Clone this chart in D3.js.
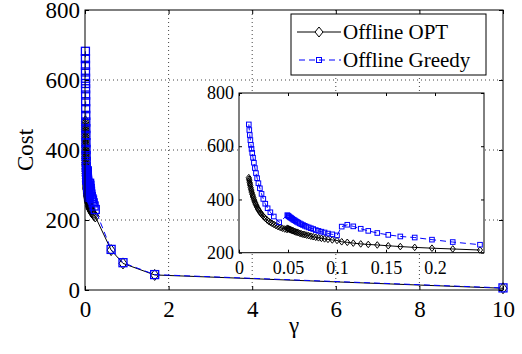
<!DOCTYPE html>
<html>
<head>
<meta charset="utf-8">
<script src="https://cdn.jsdelivr.net/npm/d3@7"></script>
<style>
  body { margin: 0; background: #fff; }
  svg { display: block; }
</style>
</head>
<body>
<svg id="chart" width="522" height="354"></svg>
<script>
// ---- data: cost versus gamma ----
// sweep 1 (fine gamma, small values)
const gammaOptA = [0.0100,0.0103,0.0106,0.0109,0.0112,0.0115,0.0119,0.0123,0.0127,0.0131,0.0136,0.0141,0.0146,0.0152,0.0158,0.0164,0.0171,0.0178,0.0186,0.0194,0.0203,0.0212,0.0222,0.0233,0.0245,0.0258,0.0272,0.0287,0.0303,0.0320,0.0338,0.0357,0.0377,0.0398,0.0420,0.0443,0.0467,0.0490];
const optA      = [482,476,470,464,458,452,445,438,432,426,419,413,407,400,394,388,382,376,370,364,359,354,348,343,338,333,328,323,318,314,310,306,302,298,295,292,289,287];
const gammaGreedyA = [0.0100,0.0105,0.0110,0.0116,0.0122,0.0128,0.0135,0.0143,0.0152,0.0162,0.0173,0.0185,0.0198,0.0213,0.0230,0.0248,0.0268,0.0292,0.0320,0.0355,0.0410];
const greedyA      = [682,661,642,623,605,590,575,557,538,518,499,480,461,442,421,402,384,367,352,336,314];
// sweep 2
const gammaB  = [0.0493,0.0500,0.0508,0.0516,0.0525,0.0534,0.0544,0.0555,0.0566,0.0578,0.0591,0.0605,0.0620,0.0636,0.0653,0.0671,0.0690,0.0711,0.0733,0.0757,0.0783,0.0811,0.0841,0.0873,0.0908,0.0952,0.1000];
const optB    = [292,290,289,288,286,285,283,282,280,278,277,275,273,271,269,268,266,264,262,260,258,256,254,252,250,248,246];
const greedyB = [341,339,337,334,332,330,327,324,322,319,316,313,310,307,304,301,298,295,292,289,285,282,279,276,272,269,265];
// sweep 3
const gammaC  = [0.1048,0.1105,0.1166,0.1242,0.1319,0.1411,0.1523,0.1646,0.1793,0.1969,0.2181,0.2459];
const optC    = [241,239,236,233,231,229,226,223,220,217,214,210];
const greedyC = [298,305,299,290,282,274,267,261,257,249,240,230];
// coarse sweep (large gamma)
const gammaWide  = [0.625,0.909,1.667,10];
const optWide    = [114,76,43,5];
const greedyWide = [116,78,44,6];

// ---- axes ----
const mainXTicks = [0,2,4,6,8,10];
const mainYTicks = [0,200,400,600,800];
const insetXTicks = [0,0.05,0.1,0.15,0.2];
const insetXTickLabels = ["0","0.05","0.1","0.15","0.2"];
const insetYTicks = [200,400,600,800];
const seriesNames = ["Offline OPT","Offline Greedy"];
const xLabel = "γ";
const yLabel = "Cost";

const FONT = '"Liberation Serif"';
const zip = (xs, ys) => xs.map((g, i) => ({g, v: ys[i]}));
const optInset = [...zip(gammaOptA, optA), ...zip(gammaB, optB), ...zip(gammaC, optC)];
const greedyInset = [...zip(gammaGreedyA, greedyA), ...zip(gammaB, greedyB), ...zip(gammaC, greedyC)];
const optAll = [...optInset, ...zip(gammaWide, optWide)];
const greedyAll = [...greedyInset, ...zip(gammaWide, greedyWide)];

const svg = d3.select("#chart");
const BLUE = "#0000ff";

function diamond(hw, hh) { return `M0,${-hh}L${hw},0L0,${hh}L${-hw},0Z`; }

function drawSeries(g, x, y, opt, greedy, sz) {
  const line = d3.line().x(d => x(d.g)).y(d => y(d.v));
  g.append("path").datum(opt).attr("d", line)
    .attr("fill", "none").attr("stroke", "#000").attr("stroke-width", 1);
  g.selectAll(null).data(opt).enter().append("path")
    .attr("d", diamond(sz.dw, sz.dh))
    .attr("transform", d => `translate(${x(d.g)},${y(d.v)})`)
    .attr("fill", "none").attr("stroke", "#000").attr("stroke-width", 1);
  g.append("path").datum(greedy).attr("d", line)
    .attr("fill", "none").attr("stroke", BLUE).attr("stroke-width", 1)
    .attr("stroke-dasharray", "6,4");
  g.selectAll(null).data(greedy).enter().append("rect")
    .attr("x", d => x(d.g) - sz.s).attr("y", d => y(d.v) - sz.s)
    .attr("width", 2 * sz.s).attr("height", 2 * sz.s)
    .attr("fill", "none").attr("stroke", BLUE).attr("stroke-width", sz.sw);
}

function frame(g, x, y, xt, yt, fmtX, fontSize, tick, padX, padY) {
  const [x0, x1] = x.range(), [y0, y1] = y.range();
  g.attr("font-family", null);
  const bottom = g.append("g").attr("transform", `translate(0,${y0})`)
    .call(d3.axisBottom(x).tickValues(xt).tickSize(-tick).tickPadding(padX).tickFormat(fmtX));
  const top = g.append("g").attr("transform", `translate(0,${y1})`)
    .call(d3.axisTop(x).tickValues(xt).tickSize(-tick).tickFormat(""));
  const left = g.append("g").attr("transform", `translate(${x0},0)`)
    .call(d3.axisLeft(y).tickValues(yt).tickSize(-tick).tickPadding(padY).tickFormat(d3.format("d")));
  const right = g.append("g").attr("transform", `translate(${x1},0)`)
    .call(d3.axisRight(y).tickValues(yt).tickSize(-tick).tickFormat(""));
  [bottom, top, left, right].forEach(a => {
    a.attr("font-family", null).attr("font-size", null);
    a.select(".domain").remove();
    a.selectAll("line").attr("stroke", "#000");
    a.selectAll("text").style("font-family", FONT)
      .style("font-size", fontSize + "px").attr("fill", "#000");
  });
  g.append("rect").attr("x", x0).attr("y", y1).attr("width", x1 - x0).attr("height", y0 - y1)
    .attr("fill", "none").attr("stroke", "#000").attr("stroke-width", 1);
}

// ---- main plot ----
const x = d3.scaleLinear().domain([0, 10]).range([85, 503]);
const y = d3.scaleLinear().domain([0, 800]).range([290, 10]);

const grid = svg.append("g");
grid.selectAll(null).data(mainXTicks.slice(1, -1)).enter().append("line")
  .attr("x1", d => x(d)).attr("x2", d => x(d)).attr("y1", y(800)).attr("y2", y(0))
  .attr("stroke", "#444").attr("stroke-dasharray", "1,3");
grid.selectAll(null).data(mainYTicks.slice(1, -1)).enter().append("line")
  .attr("y1", d => y(d)).attr("y2", d => y(d)).attr("x1", x(0)).attr("x2", x(10))
  .attr("stroke", "#444").attr("stroke-dasharray", "1,3");

const mainG = svg.append("g");
drawSeries(mainG, x, y, optAll, greedyAll, {dw: 4, dh: 5.5, s: 4, sw: 1.3});
frame(svg.append("g"), x, y, mainXTicks, mainYTicks, d3.format("d"), 23, 4, 11, 5);

svg.append("text").attr("x", x(5)).attr("y", 333).attr("text-anchor", "middle")
  .style("font-family", FONT).style("font-size", "23px").text(xLabel);
svg.append("text").attr("transform", `translate(33,${y(400)}) rotate(-90)`)
  .attr("text-anchor", "middle")
  .style("font-family", FONT).style("font-size", "23px").text(yLabel);

// ---- legend ----
const lg = svg.append("g");
lg.append("rect").attr("x", 291).attr("y", 14).attr("width", 195).attr("height", 61)
  .attr("fill", "#fff").attr("stroke", "#000").attr("stroke-width", 1);
const rowY = [32, 60];
lg.append("line").attr("x1", 297).attr("x2", 341).attr("y1", rowY[0]).attr("y2", rowY[0])
  .attr("stroke", "#000");
lg.append("path").attr("d", diamond(4, 5)).attr("transform", `translate(319,${rowY[0]})`)
  .attr("fill", "#fff").attr("stroke", "#000");
lg.append("line").attr("x1", 297).attr("x2", 341).attr("y1", rowY[1]).attr("y2", rowY[1])
  .attr("stroke", BLUE).attr("stroke-dasharray", "6,4").attr("stroke-dashoffset", -2);
lg.append("rect").attr("x", 316.5).attr("y", rowY[1] - 2.5).attr("width", 5).attr("height", 5)
  .attr("fill", "none").attr("stroke", BLUE);
lg.selectAll(null).data(seriesNames).enter().append("text")
  .attr("x", 343).attr("y", (d, i) => rowY[i] + 7)
  .style("font-family", FONT).style("font-size", "21px").text(d => d);

// ---- inset: zoom on small gamma ----
const xi = d3.scaleLinear().domain([0, 0.25]).range([239, 484]);
const yi = d3.scaleLinear().domain([200, 800]).range([252.7, 93]);
const inset = svg.append("g");
inset.append("rect").attr("x", 239).attr("y", 93).attr("width", 245).attr("height", 159.7)
  .attr("fill", "#fff");
drawSeries(inset, xi, yi, optInset, greedyInset, {dw: 2.6, dh: 3.3, s: 2.3, sw: 1});
frame(inset.append("g"), xi, yi, insetXTicks, insetYTicks, (d, i) => insetXTickLabels[i], 18, 3, 9, 5);
</script>
</body>
</html>
